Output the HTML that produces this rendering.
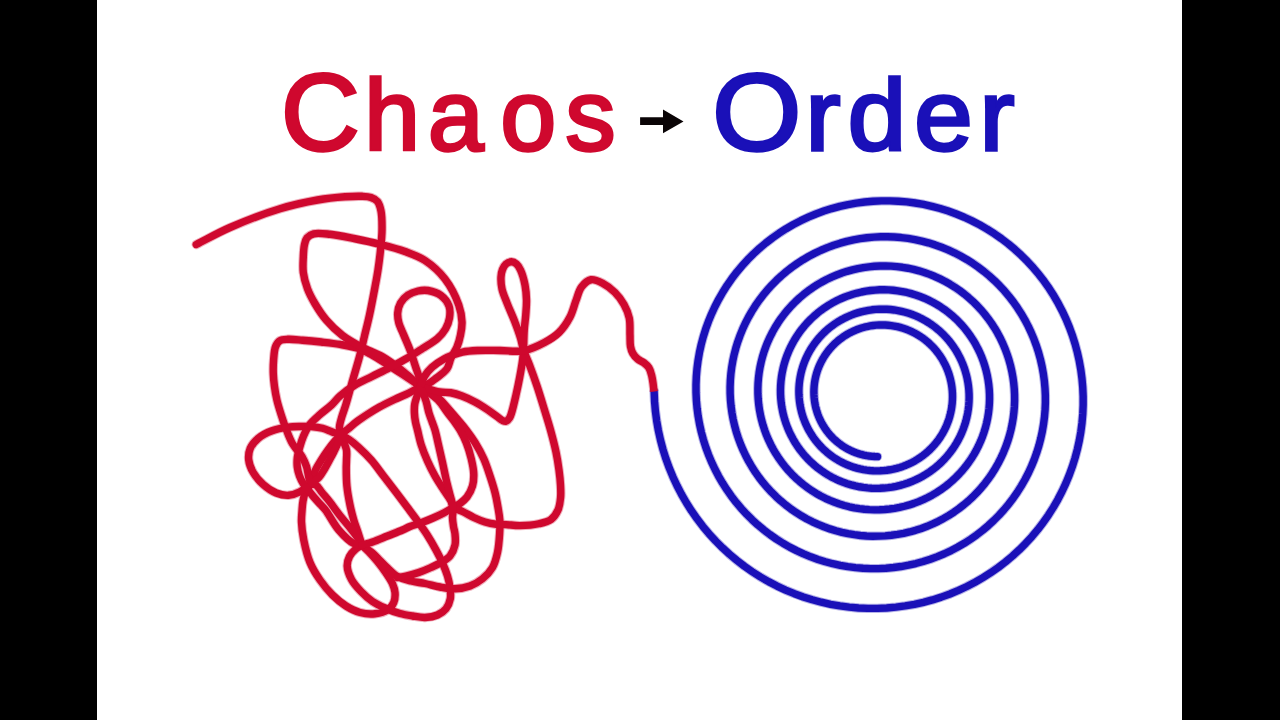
<!DOCTYPE html>
<html lang="en"><head><meta charset="utf-8"><title>Chaos → Order</title>
<style>
html,body{margin:0;padding:0;background:#000;}
body{width:1280px;height:720px;position:relative;overflow:hidden;font-family:"Liberation Sans",sans-serif;}
.stage{position:absolute;left:97px;top:0;width:1085px;height:720px;background:#fff;}
</style></head><body>
<div class="stage"></div>
<svg width="1280" height="720" viewBox="0 0 1280 720" style="position:absolute;left:0;top:0">
<g id="art">
<defs><path id="spiral-geo" d="M654.13 391.47 L654.55 401.31 L655.39 411.10 L656.67 420.83 L658.36 430.49 L660.47 440.05 L662.99 449.49 L665.92 458.80 L669.24 467.96 L672.96 476.95 L677.06 485.76 L681.53 494.37 L686.37 502.77 L691.57 510.93 L697.10 518.85 L702.97 526.51 L709.16 533.90 L715.66 541.00 L722.45 547.79 L729.52 554.28 L736.85 560.44 L744.44 566.27 L752.26 571.75 L760.30 576.88 L768.55 581.65 L776.99 586.04 L785.59 590.06 L794.35 593.69 L803.25 596.94 L812.27 599.78 L821.39 602.23 L830.60 604.28 L839.87 605.91 L849.20 607.14 L858.55 607.96 L867.92 608.38 L877.28 608.38 L886.63 607.97 L895.93 607.16 L905.17 605.94 L914.34 604.33 L923.42 602.31 L932.39 599.91 L941.23 597.12 L949.93 593.96 L958.47 590.42 L966.83 586.52 L975.01 582.26 L982.98 577.66 L990.73 572.72 L998.25 567.45 L1005.52 561.87 L1012.53 555.99 L1019.27 549.81 L1025.72 543.36 L1031.87 536.64 L1037.72 529.67 L1043.25 522.45 L1048.45 515.02 L1053.32 507.38 L1057.84 499.54 L1062.01 491.52 L1065.82 483.34 L1069.27 475.02 L1072.34 466.56 L1075.04 457.99 L1077.35 449.33 L1079.29 440.58 L1080.84 431.77 L1082.00 422.91 L1082.77 414.02 L1083.15 405.12 L1083.15 396.23 L1082.75 387.36 L1081.97 378.52 L1080.81 369.74 L1079.27 361.03 L1077.35 352.41 L1075.06 343.89 L1072.41 335.50 L1069.39 327.24 L1066.03 319.13 L1062.31 311.18 L1058.26 303.42 L1053.89 295.85 L1049.19 288.49 L1044.18 281.36 L1038.87 274.45 L1033.28 267.80 L1027.41 261.40 L1021.27 255.28 L1014.88 249.44 L1008.25 243.89 L1001.40 238.64 L994.33 233.71 L987.07 229.09 L979.62 224.80 L972.00 220.85 L964.23 217.24 L956.32 213.97 L948.28 211.06 L940.14 208.50 L931.91 206.31 L923.60 204.48 L915.23 203.01 L906.81 201.92 L898.37 201.19 L889.92 200.83 L881.47 200.85 L873.04 201.23 L864.65 201.97 L856.31 203.08 L848.03 204.56 L839.85 206.38 L831.76 208.56 L823.79 211.09 L815.94 213.96 L808.24 217.17 L800.70 220.70 L793.33 224.55 L786.14 228.72 L779.15 233.19 L772.38 237.95 L765.82 243.00 L759.51 248.32 L753.44 253.90 L747.63 259.73 L742.08 265.81 L736.82 272.11 L731.84 278.62 L727.15 285.34 L722.77 292.24 L718.71 299.32 L714.96 306.56 L711.53 313.95 L708.44 321.46 L705.68 329.10 L703.25 336.83 L701.18 344.66 L699.44 352.55 L698.06 360.51 L697.02 368.50 L696.34 376.52 L696.01 384.55 L696.03 392.58 L696.40 400.58 L697.11 408.55 L698.17 416.47 L699.58 424.33 L701.32 432.11 L703.40 439.79 L705.81 447.36 L708.54 454.81 L711.59 462.12 L714.95 469.28 L718.62 476.28 L722.58 483.11 L726.83 489.74 L731.36 496.17 L736.16 502.39 L741.22 508.39 L746.52 514.15 L752.07 519.67 L757.84 524.93 L763.83 529.92 L770.02 534.65 L776.41 539.09 L782.97 543.25 L789.70 547.11 L796.58 550.66 L803.60 553.91 L810.74 556.84 L817.99 559.46 L825.34 561.75 L832.78 563.72 L840.28 565.36 L847.83 566.67 L855.43 567.65 L863.05 568.29 L870.68 568.60 L878.30 568.58 L885.90 568.22 L893.47 567.53 L901.00 566.52 L908.46 565.18 L915.84 563.52 L923.14 561.54 L930.33 559.24 L937.40 556.64 L944.35 553.74 L951.15 550.54 L957.79 547.05 L964.27 543.28 L970.57 539.24 L976.68 534.93 L982.58 530.37 L988.27 525.56 L993.74 520.51 L998.98 515.24 L1003.97 509.75 L1008.71 504.06 L1013.20 498.17 L1017.41 492.11 L1021.35 485.87 L1025.01 479.48 L1028.39 472.94 L1031.47 466.27 L1034.25 459.48 L1036.73 452.59 L1038.90 445.60 L1040.76 438.54 L1042.32 431.41 L1043.55 424.24 L1044.47 417.02 L1045.08 409.79 L1045.37 402.54 L1045.34 395.30 L1044.99 388.07 L1044.34 380.88 L1043.37 373.74 L1042.09 366.65 L1040.50 359.64 L1038.62 352.71 L1036.43 345.88 L1033.96 339.16 L1031.19 332.57 L1028.15 326.11 L1024.83 319.80 L1021.25 313.65 L1017.40 307.67 L1013.30 301.87 L1008.96 296.27 L1004.39 290.86 L999.59 285.67 L994.58 280.71 L989.36 275.97 L983.95 271.47 L978.36 267.21 L972.59 263.21 L966.66 259.47 L960.59 256.00 L954.37 252.80 L948.04 249.88 L941.59 247.25 L935.04 244.90 L928.40 242.84 L921.69 241.07 L914.92 239.60 L908.10 238.43 L901.25 237.56 L894.37 237.00 L887.49 236.73 L880.61 236.76 L873.75 237.09 L866.92 237.72 L860.13 238.65 L853.40 239.87 L846.74 241.38 L840.16 243.18 L833.67 245.26 L827.30 247.62 L821.03 250.25 L814.90 253.14 L808.91 256.30 L803.07 259.71 L797.39 263.37 L791.89 267.26 L786.57 271.39 L781.44 275.74 L776.51 280.30 L771.80 285.07 L767.30 290.02 L763.03 295.17 L758.99 300.49 L755.20 305.97 L751.65 311.60 L748.36 317.37 L745.32 323.28 L742.56 329.30 L740.06 335.43 L737.83 341.65 L735.88 347.96 L734.21 354.33 L732.82 360.77 L731.71 367.25 L730.89 373.76 L730.36 380.29 L730.11 386.83 L730.14 393.36 L730.46 399.88 L731.07 406.37 L731.96 412.81 L733.12 419.21 L734.56 425.53 L736.27 431.78 L738.25 437.94 L740.50 444.00 L743.00 449.94 L745.76 455.77 L748.76 461.45 L752.01 467.00 L755.48 472.39 L759.19 477.61 L763.11 482.66 L767.25 487.53 L771.58 492.21 L776.11 496.68 L780.83 500.95 L785.72 505.01 L790.77 508.84 L795.98 512.44 L801.34 515.80 L806.82 518.92 L812.43 521.80 L818.16 524.43 L823.98 526.80 L829.89 528.91 L835.89 530.76 L841.94 532.34 L848.05 533.65 L854.21 534.70 L860.40 535.47 L866.60 535.98 L872.81 536.21 L879.02 536.17 L885.21 535.86 L891.37 535.28 L897.49 534.43 L903.57 533.32 L909.57 531.95 L915.51 530.32 L921.36 528.43 L927.11 526.29 L932.75 523.91 L938.28 521.29 L943.68 518.43 L948.95 515.34 L954.07 512.03 L959.03 508.51 L963.82 504.78 L968.44 500.85 L972.88 496.73 L977.13 492.42 L981.18 487.94 L985.03 483.29 L988.66 478.49 L992.08 473.53 L995.27 468.45 L998.23 463.23 L1000.96 457.90 L1003.45 452.46 L1005.70 446.93 L1007.70 441.31 L1009.45 435.62 L1010.95 429.86 L1012.19 424.05 L1013.18 418.21 L1013.91 412.33 L1014.38 406.44 L1014.60 400.53 L1014.55 394.64 L1014.25 388.76 L1013.70 382.90 L1012.89 377.09 L1011.83 371.32 L1010.52 365.62 L1008.97 359.98 L1007.17 354.43 L1005.14 348.96 L1002.87 343.60 L1000.37 338.35 L997.65 333.23 L994.72 328.23 L991.57 323.37 L988.22 318.66 L984.67 314.11 L980.93 309.72 L977.01 305.51 L972.92 301.48 L968.66 297.63 L964.24 293.98 L959.68 290.53 L954.97 287.29 L950.13 284.27 L945.18 281.45 L940.11 278.87 L934.94 276.51 L929.68 274.38 L924.34 272.48 L918.94 270.82 L913.47 269.40 L907.95 268.23 L902.40 267.29 L896.81 266.60 L891.21 266.16 L885.61 265.96 L880.01 266.00 L874.42 266.29 L868.86 266.82 L863.34 267.60 L857.86 268.61 L852.44 269.86 L847.09 271.34 L841.82 273.05 L836.63 274.99 L831.54 277.14 L826.55 279.52 L821.69 282.11 L816.94 284.90 L812.33 287.89 L807.86 291.08 L803.54 294.45 L799.37 298.01 L795.37 301.73 L791.55 305.62 L787.90 309.68 L784.43 313.87 L781.16 318.21 L778.09 322.69 L775.21 327.28 L772.55 331.99 L770.09 336.81 L767.86 341.72 L765.84 346.72 L764.04 351.79 L762.47 356.93 L761.13 362.12 L760.01 367.36 L759.13 372.64 L758.48 377.95 L758.06 383.27 L757.88 388.59 L757.92 393.91 L758.20 399.22 L758.71 404.50 L759.45 409.74 L760.42 414.94 L761.60 420.09 L763.02 425.17 L764.65 430.18 L766.49 435.11 L768.54 439.94 L770.80 444.68 L773.26 449.30 L775.92 453.80 L778.77 458.18 L781.80 462.43 L785.01 466.53 L788.38 470.48 L791.93 474.28 L795.63 477.91 L799.48 481.37 L803.47 484.66 L807.60 487.76 L811.85 490.68 L816.22 493.41 L820.69 495.93 L825.27 498.26 L829.93 500.38 L834.68 502.30 L839.50 504.00 L844.38 505.49 L849.32 506.76 L854.30 507.82 L859.31 508.65 L864.35 509.26 L869.41 509.66 L874.46 509.83 L879.52 509.78 L884.56 509.51 L889.57 509.02 L894.56 508.32 L899.50 507.40 L904.38 506.26 L909.21 504.92 L913.97 503.37 L918.65 501.61 L923.24 499.66 L927.73 497.50 L932.12 495.16 L936.40 492.64 L940.55 489.93 L944.58 487.05 L948.48 484.00 L952.23 480.78 L955.83 477.41 L959.28 473.90 L962.57 470.24 L965.68 466.44 L968.63 462.52 L971.40 458.48 L973.98 454.33 L976.38 450.08 L978.59 445.73 L980.60 441.29 L982.42 436.78 L984.03 432.20 L985.44 427.56 L986.64 422.87 L987.64 418.14 L988.43 413.38 L989.01 408.59 L989.38 403.79 L989.54 398.99 L989.49 394.19 L989.23 389.40 L988.76 384.63 L988.09 379.90 L987.21 375.21 L986.13 370.57 L984.85 365.98 L983.37 361.47 L981.70 357.02 L979.84 352.67 L977.79 348.40 L975.56 344.23 L973.16 340.17 L970.58 336.22 L967.84 332.40 L964.94 328.70 L961.89 325.14 L958.68 321.72 L955.34 318.45 L951.86 315.33 L948.25 312.37 L944.53 309.57 L940.69 306.95 L936.74 304.49 L932.70 302.22 L928.57 300.13 L924.35 298.22 L920.06 296.50 L915.71 294.97 L911.30 293.63 L906.85 292.49 L902.35 291.55 L897.83 290.80 L893.28 290.26 L888.72 289.91 L884.16 289.76 L879.60 289.81 L875.05 290.07 L870.53 290.51 L866.03 291.16 L861.57 292.00 L857.17 293.03 L852.81 294.25 L848.52 295.65 L844.30 297.24 L840.16 299.02 L836.11 300.96 L832.16 303.08 L828.30 305.37 L824.55 307.82 L820.92 310.42 L817.41 313.18 L814.03 316.09 L810.79 319.13 L807.68 322.31 L804.72 325.62 L801.91 329.05 L799.26 332.59 L796.77 336.24 L794.44 339.99 L792.28 343.83 L790.30 347.76 L788.49 351.76 L786.86 355.84 L785.41 359.97 L784.14 364.16 L783.06 368.39 L782.17 372.66 L781.47 376.96 L780.95 381.28 L780.63 385.61 L780.49 389.95 L780.54 394.28 L780.78 398.60 L781.21 402.90 L781.83 407.17 L782.63 411.40 L783.61 415.59 L784.77 419.72 L786.11 423.80 L787.63 427.80 L789.31 431.73 L791.16 435.58 L793.18 439.34 L795.36 443.00 L797.68 446.56 L800.16 450.00 L802.79 453.33 L805.55 456.54 L808.44 459.62 L811.47 462.57 L814.61 465.38 L817.87 468.05 L821.24 470.56 L824.71 472.93 L828.27 475.13 L831.92 477.18 L835.65 479.06 L839.46 480.78 L843.33 482.32 L847.26 483.70 L851.24 484.90 L855.26 485.92 L859.32 486.76 L863.40 487.43 L867.50 487.91 L871.62 488.22 L875.74 488.35 L879.85 488.29 L883.95 488.06 L888.04 487.65 L892.09 487.06 L896.11 486.30 L900.09 485.36 L904.01 484.25 L907.88 482.98 L911.69 481.54 L915.42 479.93 L919.07 478.17 L922.64 476.25 L926.12 474.18 L929.49 471.97 L932.77 469.61 L935.93 467.12 L938.98 464.49 L941.90 461.74 L944.70 458.86 L947.36 455.88 L949.89 452.78 L952.28 449.58 L954.52 446.28 L956.62 442.89 L958.56 439.42 L960.34 435.88 L961.97 432.26 L963.43 428.58 L964.74 424.85 L965.87 421.07 L966.84 417.25 L967.64 413.39 L968.27 409.51 L968.73 405.61 L969.01 401.70 L969.13 397.79 L969.08 393.88 L968.85 389.99 L968.46 386.11 L967.90 382.26 L967.17 378.44 L966.28 374.66 L965.22 370.94 L964.01 367.26 L962.63 363.65 L961.11 360.10 L959.43 356.64 L957.61 353.25 L955.64 349.95 L953.53 346.74 L951.29 343.63 L948.92 340.63 L946.42 337.74 L943.80 334.97 L941.07 332.31 L938.23 329.78 L935.29 327.38 L932.24 325.12 L929.11 322.99 L925.89 321.00 L922.59 319.16 L919.22 317.47 L915.79 315.92 L912.29 314.54 L908.75 313.30 L905.15 312.23 L901.52 311.31 L897.86 310.55 L894.17 309.96 L890.47 309.53 L886.76 309.26 L883.04 309.15 L879.33 309.20 L875.63 309.42 L871.94 309.80 L868.28 310.33 L864.66 311.03 L861.07 311.88 L857.53 312.88 L854.04 314.04 L850.61 315.35 L847.25 316.80 L843.95 318.40 L840.74 320.13 L837.60 322.00 L834.56 324.01 L831.61 326.14 L828.76 328.39 L826.01 330.77 L823.38 333.26 L820.86 335.85 L818.46 338.55 L816.18 341.35 L814.03 344.24 L812.01 347.22 L810.13 350.28 L808.38 353.42 L806.78 356.62 L805.31 359.88 L804.00 363.20 L802.83 366.58 L801.81 369.99 L800.94 373.44 L800.23 376.92 L799.67 380.42 L799.26 383.94 L799.00 387.47 L798.90 391.00 L798.96 394.52 L799.17 398.04 L799.53 401.54 L800.04 405.01 L800.70 408.45 L801.51 411.86 L802.47 415.22 L803.57 418.54 L804.82 421.80 L806.20 424.99 L807.72 428.12 L809.37 431.17 L811.15 434.15 L813.06 437.04 L815.08 439.84 L817.23 442.54 L819.49 445.15 L821.85 447.65 L824.32 450.04 L826.89 452.32 L829.55 454.48 L832.30 456.52 L835.13 458.44 L838.03 460.22 L841.01 461.88 L844.06 463.40 L847.16 464.79 L850.31 466.04 L853.52 467.14 L856.76 468.11 L860.04 468.93 L863.34 469.61 L866.67 470.14 L870.01 470.52 L873.36 470.76 L876.72 470.85 L880.07 470.80 L883.41 470.60 L886.73 470.25 L890.03 469.76 L893.30 469.13 L896.54 468.36 L899.73 467.45 L902.88 466.40 L905.97 465.21 L909.00 463.90 L911.97 462.45 L914.87 460.88 L917.70 459.19 L920.44 457.37 L923.10 455.45 L925.67 453.41 L928.14 451.26 L930.51 449.01 L932.78 446.66 L934.95 444.22 L937.00 441.70 L938.93 439.08 L940.75 436.39 L942.45 433.63 L944.02 430.80 L945.46 427.91 L946.78 424.96 L947.96 421.96 L949.01 418.92 L949.92 415.84 L950.70 412.72 L951.34 409.58 L951.84 406.42 L952.21 403.24 L952.43 400.06 L952.51 396.87 L952.46 393.69 L952.27 390.52 L951.94 387.37 L951.47 384.23 L950.86 381.12 L950.13 378.05 L949.26 375.02 L948.26 372.03 L947.13 369.09 L945.88 366.21 L944.50 363.39 L943.01 360.64 L941.40 357.96 L939.68 355.35 L937.84 352.83 L935.90 350.39 L933.86 348.04 L931.72 345.79 L929.49 343.64 L927.17 341.58 L924.77 339.64 L922.29 337.80 L919.73 336.08 L917.10 334.47 L914.41 332.98 L911.66 331.61 L908.86 330.36 L906.01 329.24 L903.12 328.25 L900.19 327.38 L897.24 326.64 L894.25 326.04 L891.25 325.56 L888.23 325.22 L885.21 325.01 L882.18 324.93 L879.16 324.99 L876.15 325.17 L873.15 325.49 L870.17 325.94 L867.22 326.51 L864.30 327.22 L861.42 328.04 L858.59 328.99 L855.80 330.07 L853.06 331.26 L850.38 332.57 L847.77 333.99 L845.22 335.52 L842.75 337.16 L840.35 338.91 L838.04 340.75 L835.81 342.69 L833.67 344.72 L831.63 346.84 L829.68 349.05 L827.83 351.33 L826.09 353.69 L824.46 356.12 L822.93 358.62 L821.52 361.18 L820.22 363.79 L819.04 366.45 L817.97 369.16 L817.03 371.91 L816.21 374.69 L815.51 377.50 L814.94 380.33 L814.49 383.19 L814.17 386.05 L813.97 388.92 L813.90 391.80 L813.95 394.67 L814.13 397.53 L814.44 400.38 L814.86 403.21 L815.41 406.01 L816.08 408.78 L816.87 411.52 L817.78 414.21 L818.80 416.86 L819.93 419.46 L821.18 422.00 L822.53 424.48 L823.99 426.90 L825.55 429.25 L827.20 431.52 L828.96 433.72 L830.80 435.83 L832.73 437.86 L834.75 439.80 L836.85 441.65 L839.02 443.40 L841.26 445.06 L843.57 446.61 L845.94 448.06 L848.37 449.40 L850.86 450.63 L853.39 451.75 L855.96 452.76 L858.57 453.65 L861.21 454.43 L863.88 455.09 L866.58 455.63 L869.29 456.05 L872.01 456.36 L874.74 456.54 L877.47 456.61"/><g id="tangle-geo">
<path d="M196.25 244.50 C207.50 238.83 217.48 232.98 230.00 227.50 C244.88 220.99 264.39 213.48 280.00 208.75 C293.26 204.74 305.91 202.02 317.50 200.00 C327.32 198.29 336.92 197.39 345.00 196.80 C351.33 196.34 357.24 196.05 362.00 196.30 C365.48 196.48 368.33 196.55 371.00 197.50 C373.45 198.37 375.87 199.51 377.50 201.50 C379.38 203.79 380.22 207.22 381.00 211.00 C382.07 216.18 382.07 223.59 382.00 230.00 C381.93 236.58 381.17 243.34 380.50 250.00 C379.83 256.67 378.96 263.62 378.00 270.00 C377.11 275.91 376.19 280.64 375.00 287.00 C373.47 295.18 371.38 306.35 369.50 315.00 C367.87 322.52 366.20 328.96 364.50 336.00 C362.78 343.13 361.18 350.27 359.25 357.50 C357.27 364.94 354.94 372.30 352.75 380.00 C350.44 388.11 347.79 398.33 345.75 405.00 C344.37 409.51 343.05 412.52 342.00 416.25 C340.98 419.85 339.67 423.67 339.50 427.00 C339.35 429.85 339.79 432.52 340.50 435.00 C341.17 437.33 342.55 439.16 343.50 441.50 C344.56 444.12 345.99 447.01 346.50 450.00 C347.04 453.15 346.55 456.85 346.50 460.00 C346.46 462.82 346.24 464.80 346.25 468.00 C346.26 472.80 346.30 479.94 346.90 486.00 C347.52 492.27 348.78 499.06 350.00 505.00 C351.10 510.32 352.40 515.41 353.75 520.00 C354.92 523.98 356.21 527.11 357.50 531.00 C358.95 535.38 360.50 540.33 362.00 545.00"/>
<path d="M340.50 435.00 C338.67 437.00 336.90 438.76 335.00 441.00 C332.76 443.66 330.28 446.84 328.00 450.00 C325.60 453.32 323.19 456.96 321.00 460.50 C318.86 463.96 316.65 467.26 315.00 471.00 C313.28 474.90 312.73 479.83 311.00 483.50 C309.48 486.72 306.84 489.02 305.50 492.00 C304.21 494.86 303.58 497.90 303.00 501.00 C302.40 504.22 302.25 507.58 302.00 511.00 C301.74 514.58 301.34 517.89 301.50 522.00 C301.71 527.27 302.49 533.71 303.75 540.00 C305.18 547.13 307.14 555.63 310.00 562.50 C312.66 568.88 316.21 574.55 320.00 580.00 C323.73 585.37 328.03 590.57 332.50 595.00 C336.73 599.18 341.26 603.04 346.00 606.00 C350.46 608.79 355.13 611.21 360.00 612.50 C364.81 613.77 370.27 614.24 375.00 613.75 C379.40 613.29 384.28 612.13 387.50 610.00 C390.29 608.16 392.50 605.39 393.75 602.50 C395.02 599.57 395.25 595.70 395.00 592.50 C394.77 589.46 393.80 586.73 392.50 583.75 C390.97 580.25 388.44 576.62 386.00 573.00 C383.33 569.04 379.99 564.66 377.00 561.00 C374.32 557.72 371.62 554.78 369.00 552.00 C366.63 549.48 364.33 547.33 362.00 545.00"/>
<path d="M420.50 386.50 C416.83 388.58 413.50 390.72 409.50 392.75 C404.94 395.07 399.48 397.14 394.50 399.50 C389.48 401.89 384.12 404.45 379.50 407.00 C375.36 409.29 371.76 411.58 368.00 414.00 C364.26 416.41 360.42 418.91 357.00 421.50 C353.79 423.93 350.87 426.65 348.00 429.00 C345.40 431.13 342.13 432.60 340.50 435.00 C339.02 437.17 339.19 439.92 338.20 442.50 C337.08 445.40 335.46 448.56 334.00 451.50 C332.56 454.39 331.05 457.13 329.50 460.00 C327.89 462.97 326.29 466.08 324.50 469.00 C322.72 471.91 321.08 475.07 318.80 477.50 C316.56 479.89 313.86 481.34 311.00 483.50 C307.55 486.10 303.47 490.01 299.50 492.00 C295.94 493.78 292.29 495.10 288.50 495.30 C284.54 495.51 280.20 494.61 276.20 493.00 C271.74 491.21 267.03 487.91 263.20 484.50 C259.36 481.08 255.64 476.79 253.20 472.50 C250.93 468.50 249.13 463.92 248.70 459.75 C248.30 455.93 248.74 451.98 250.20 448.50 C251.77 444.79 254.81 441.16 258.20 438.30 C261.93 435.15 267.09 432.64 272.00 430.80 C277.01 428.92 282.97 427.90 288.00 427.20 C292.40 426.59 296.49 426.59 300.50 426.50 C304.22 426.41 307.64 426.32 311.25 426.60 C314.97 426.89 318.93 427.31 322.50 428.25 C325.92 429.15 329.13 430.83 332.25 432.00 C335.11 433.07 337.77 433.79 340.50 435.00 C343.36 436.27 346.16 437.61 349.00 439.50 C352.25 441.66 355.38 444.44 358.75 447.50 C362.74 451.12 367.23 455.42 371.25 460.00 C375.58 464.93 379.58 470.83 383.75 476.25 C387.92 481.67 392.21 487.18 396.25 492.50 C400.11 497.59 403.87 502.63 407.50 507.50 C410.94 512.11 414.22 516.43 417.50 521.00 C420.80 525.60 424.18 530.19 427.25 535.00 C430.35 539.85 433.37 545.14 436.00 550.00 C438.41 554.45 440.57 558.62 442.50 563.00 C444.39 567.29 446.23 571.75 447.50 576.00 C448.67 579.91 449.54 583.67 450.00 587.50 C450.45 591.25 450.99 595.18 450.30 598.75 C449.63 602.26 448.16 606.03 446.00 608.75 C443.87 611.43 440.79 613.55 437.50 615.00 C433.88 616.60 429.18 617.34 425.00 617.50 C420.85 617.66 416.65 616.66 412.50 616.00 C408.32 615.33 404.31 614.71 400.00 613.50 C395.18 612.14 389.71 610.08 385.00 608.00 C380.58 606.05 376.43 604.18 372.50 601.50 C368.41 598.72 364.50 595.16 361.00 591.50 C357.50 587.83 353.81 583.85 351.50 579.50 C349.28 575.32 347.35 570.12 347.20 566.00 C347.08 562.57 348.07 559.33 349.50 556.50 C350.93 553.66 353.55 550.98 355.80 549.00 C357.75 547.28 359.93 546.33 362.00 545.00"/>
<path d="M420.50 386.50 C418.08 384.83 415.94 383.32 413.25 381.50 C409.92 379.24 406.03 376.65 402.00 374.00 C397.37 370.95 392.02 367.43 387.00 364.25 C382.02 361.10 376.91 357.71 372.00 355.00 C367.51 352.52 363.66 350.21 358.75 348.50 C353.15 346.55 346.27 345.49 340.00 344.40 C333.77 343.32 327.51 342.70 321.25 342.00 C315.01 341.30 308.35 340.66 302.50 340.20 C297.36 339.79 292.11 339.10 288.00 339.30 C284.93 339.45 282.09 339.33 280.00 340.60 C278.01 341.81 276.65 343.97 275.60 346.50 C274.17 349.95 273.98 355.45 273.60 360.00 C273.21 364.61 273.14 369.52 273.30 374.00 C273.45 378.16 273.84 381.86 274.40 386.00 C275.01 390.50 275.80 395.28 276.90 400.00 C278.05 404.94 279.70 410.13 281.25 415.00 C282.74 419.70 284.19 424.10 286.00 428.75 C287.92 433.68 289.81 439.10 292.50 443.75 C295.16 448.34 299.58 452.38 302.00 456.50 C304.01 459.92 305.14 462.66 306.50 466.50 C308.22 471.36 308.49 480.91 311.00 483.50 C312.37 484.91 314.41 483.93 316.00 485.00 C318.15 486.45 319.87 489.90 322.00 492.50 C324.35 495.37 326.87 498.16 329.50 501.50 C332.65 505.51 336.07 510.61 339.50 515.00 C342.90 519.36 346.68 523.53 350.00 527.75 C353.16 531.77 356.87 536.51 359.00 539.75 C360.35 541.81 360.45 543.23 362.00 545.00 C364.29 547.62 369.37 550.27 372.50 553.00 C375.30 555.45 377.50 558.00 380.00 560.50 C382.50 563.00 384.76 565.48 387.50 568.00 C390.54 570.81 393.68 574.35 397.50 576.50 C401.48 578.74 406.42 579.83 411.00 581.00 C415.58 582.17 420.27 582.53 425.00 583.50 C429.93 584.51 434.98 586.12 440.00 587.00 C444.98 587.87 450.01 588.91 455.00 588.75 C460.01 588.59 465.36 587.71 470.00 586.00 C474.51 584.34 478.78 581.79 482.50 578.75 C486.30 575.65 490.01 571.81 492.50 567.50 C495.05 563.09 496.32 557.83 497.50 552.50 C498.78 546.72 499.23 539.75 499.60 534.00 C499.92 529.02 500.09 524.52 499.80 520.00 C499.52 515.70 498.75 511.85 498.00 507.50 C497.18 502.72 496.28 497.59 495.00 492.50 C493.64 487.10 491.84 481.54 490.00 476.00 C488.10 470.29 486.25 464.33 483.75 458.75 C481.25 453.16 478.07 447.48 475.00 442.50 C472.21 437.97 469.20 433.88 466.25 430.00 C463.53 426.42 460.83 423.36 458.00 420.00 C455.08 416.53 452.11 413.02 449.00 409.50 C445.78 405.85 443.11 401.99 439.00 398.50 C433.99 394.24 426.67 390.50 420.50 386.50"/>
<path d="M420.50 386.50 C414.67 381.43 409.19 376.16 403.00 371.30 C396.56 366.24 389.61 360.92 382.50 356.80 C375.59 352.79 367.80 350.44 361.00 346.80 C354.50 343.32 348.25 339.92 342.50 335.50 C336.65 331.01 330.93 325.48 326.25 320.00 C321.86 314.86 318.21 309.17 315.00 303.75 C312.04 298.75 309.45 293.96 307.50 288.75 C305.55 283.54 303.99 277.90 303.30 272.50 C302.64 267.31 303.08 261.83 303.30 257.00 C303.49 252.74 303.63 248.45 304.40 245.00 C305.01 242.25 305.46 239.66 307.00 237.80 C308.56 235.92 310.88 234.54 313.75 233.80 C317.88 232.74 324.03 233.68 330.00 234.30 C337.46 235.08 346.68 237.09 355.00 238.75 C363.35 240.42 371.70 242.19 380.00 244.30 C388.37 246.43 397.23 248.65 405.00 251.50 C412.14 254.12 418.66 256.30 425.00 260.50 C432.07 265.18 439.44 271.77 445.00 279.00 C450.78 286.52 455.96 297.06 458.75 305.00 C460.89 311.09 461.80 316.70 462.00 322.00 C462.17 326.61 461.35 330.79 460.50 335.00 C459.67 339.12 458.58 343.17 457.00 347.00 C455.42 350.84 452.69 354.29 451.00 358.00 C449.38 361.55 449.25 365.51 447.00 368.75 C444.44 372.44 439.19 375.82 435.75 378.50 C433.06 380.60 430.87 382.40 428.25 383.75 C425.77 385.03 423.08 385.58 420.50 386.50"/>
<path d="M420.50 386.50 C420.33 384.33 420.49 382.43 420.00 380.00 C419.34 376.73 417.66 372.98 416.25 368.75 C414.43 363.29 412.20 355.86 410.00 350.00 C408.01 344.68 405.70 339.78 403.75 335.00 C401.97 330.65 399.74 326.45 398.75 322.50 C397.92 319.18 397.44 316.18 397.70 313.00 C397.97 309.68 398.83 305.97 400.50 303.00 C402.22 299.95 405.07 297.00 408.00 295.00 C410.91 293.01 414.60 291.74 418.00 291.00 C421.27 290.28 424.51 289.94 428.00 290.50 C432.12 291.16 437.47 292.86 441.00 295.50 C444.43 298.07 447.61 302.15 449.00 306.00 C450.33 309.68 450.10 314.14 449.50 318.00 C448.91 321.81 447.45 325.63 445.50 329.00 C443.49 332.48 440.84 335.51 437.50 338.50 C433.48 342.10 427.52 345.24 422.50 348.50 C417.52 351.74 412.75 354.92 407.50 358.00 C401.94 361.26 395.90 364.42 390.00 367.50 C384.07 370.59 377.91 373.54 372.00 376.50 C366.25 379.37 360.36 381.73 355.00 385.00 C349.70 388.24 344.16 392.33 340.00 396.00 C336.61 399.00 334.65 402.05 331.50 405.00 C328.05 408.23 323.66 411.21 320.00 414.50 C316.42 417.72 312.53 420.82 309.75 424.50 C307.09 428.02 305.22 432.05 303.50 436.00 C301.81 439.89 300.56 444.16 299.50 448.00 C298.55 451.46 297.65 454.74 297.30 458.00 C296.97 461.06 296.94 464.02 297.30 467.00 C297.66 470.02 298.45 473.14 299.50 476.00 C300.53 478.81 301.96 481.54 303.50 484.00 C304.98 486.36 306.80 488.34 308.50 490.50 C310.22 492.68 311.86 494.78 313.75 497.00 C315.83 499.44 318.42 502.20 320.50 504.50 C322.29 506.48 323.55 507.50 325.50 510.00 C329.00 514.50 333.79 524.25 338.75 530.00 C343.30 535.27 349.20 541.26 353.75 543.50 C356.69 544.94 359.25 544.50 362.00 545.00"/>
<path d="M420.50 386.50 C426.33 391.00 433.37 395.31 438.00 400.00 C441.82 403.87 444.17 408.30 447.00 412.00 C449.46 415.23 451.81 417.96 454.00 421.00 C456.13 423.96 458.08 426.69 460.00 430.00 C462.18 433.76 464.44 437.98 466.25 442.50 C468.25 447.49 469.99 453.40 471.25 458.75 C472.44 463.81 473.60 468.99 473.75 473.75 C473.89 478.03 473.63 482.12 472.50 486.00 C471.37 489.87 469.27 493.98 467.00 497.00 C465.00 499.67 462.42 501.70 460.00 503.50 C457.80 505.14 455.65 506.06 453.20 507.50 C450.31 509.19 447.08 511.26 443.75 513.00 C440.20 514.85 436.27 516.62 432.50 518.25 C428.77 519.86 425.02 521.37 421.25 522.75 C417.52 524.12 413.34 525.17 410.00 526.50 C407.21 527.61 405.45 528.72 402.50 530.00 C398.38 531.78 392.50 534.00 387.50 536.00 C382.50 538.00 377.09 540.43 372.50 542.00 C368.72 543.29 365.50 544.00 362.00 545.00"/>
<path d="M420.50 386.50 C426.83 388.33 433.95 391.02 439.50 392.00 C443.69 392.74 447.03 392.10 450.75 392.75 C454.54 393.42 458.17 394.57 462.00 396.00 C466.24 397.58 470.73 399.71 475.00 402.00 C479.40 404.36 484.11 407.40 488.00 410.00 C491.32 412.22 494.37 414.59 497.00 416.50 C499.06 417.99 500.80 419.73 502.50 420.50 C503.74 421.06 504.91 421.60 506.00 421.30 C507.27 420.96 508.59 419.33 509.50 418.00 C510.46 416.59 510.78 415.21 511.50 413.00 C512.83 408.89 514.62 401.01 516.00 395.00 C517.37 389.01 518.62 383.01 519.75 377.00 C520.87 371.01 522.13 363.98 522.75 359.00 C523.19 355.50 523.28 353.59 523.50 350.00 C523.82 344.65 523.83 336.18 524.25 330.00 C524.62 324.63 525.37 320.00 525.75 315.00 C526.12 310.00 526.62 305.00 526.50 300.00 C526.38 295.00 525.98 289.95 525.00 285.00 C524.00 279.95 522.28 273.78 520.50 270.00 C519.29 267.44 518.14 265.39 516.50 264.00 C515.07 262.79 513.21 261.78 511.50 261.75 C509.72 261.72 507.48 262.76 506.00 264.00 C504.45 265.30 503.33 267.44 502.50 269.50 C501.60 271.73 501.16 274.19 501.00 277.00 C500.80 280.52 501.11 284.91 502.00 289.00 C502.98 293.55 505.09 298.07 507.00 303.00 C509.18 308.65 512.21 315.05 514.50 321.00 C516.70 326.72 518.93 332.79 520.50 338.00 C521.80 342.31 522.15 345.82 523.50 350.00 C525.04 354.77 527.44 359.56 529.50 365.00 C531.92 371.39 534.57 378.74 537.00 386.00 C539.58 393.71 542.16 402.36 544.50 410.00 C546.63 416.96 548.62 423.15 550.50 430.00 C552.46 437.14 554.55 445.01 556.00 452.00 C557.30 458.27 558.24 464.26 559.00 470.00 C559.69 475.22 560.24 480.22 560.50 485.00 C560.73 489.35 561.01 493.36 560.60 497.50 C560.19 501.69 559.66 506.28 558.00 510.00 C556.40 513.58 554.10 517.22 551.00 519.50 C547.75 521.89 543.33 522.74 538.75 523.75 C533.23 524.96 525.80 525.52 520.00 525.60 C515.00 525.67 510.25 524.83 506.00 524.60 C502.46 524.41 499.60 524.64 496.25 524.25 C492.62 523.82 488.70 523.10 485.00 522.00 C481.20 520.87 477.45 519.22 473.75 517.50 C469.95 515.73 466.11 513.23 462.50 511.50 C459.29 509.96 455.09 509.55 453.20 507.50 C451.65 505.82 452.16 503.37 451.00 501.00 C449.40 497.72 446.26 493.90 443.75 490.00 C440.94 485.63 437.70 480.81 435.00 476.00 C432.28 471.15 429.78 466.13 427.50 461.00 C425.19 455.80 422.94 450.30 421.25 445.00 C419.65 439.97 418.56 434.22 417.50 430.00 C416.73 426.92 416.01 424.76 415.50 422.00 C414.96 419.10 414.52 416.01 414.40 413.00 C414.28 410.00 414.13 407.44 414.75 404.00 C415.64 399.07 418.58 392.33 420.50 386.50"/>
<path d="M420.50 386.50 C422.33 391.33 424.54 396.35 426.00 401.00 C427.30 405.15 427.91 409.37 429.00 413.00 C429.93 416.10 431.00 418.67 432.00 421.50 C433.00 424.33 434.03 426.69 435.00 430.00 C436.31 434.47 437.51 440.62 438.75 446.00 C440.01 451.46 441.27 456.92 442.50 462.50 C443.77 468.24 444.95 474.40 446.25 480.00 C447.46 485.20 448.79 490.23 450.00 495.00 C451.10 499.36 452.84 503.54 453.20 507.50 C453.52 510.99 452.43 514.26 452.50 517.50 C452.56 520.58 453.06 523.65 453.50 526.50 C453.91 529.12 454.73 531.25 455.00 534.00 C455.33 537.30 455.78 541.42 455.00 545.00 C454.19 548.76 452.41 553.05 450.00 556.00 C447.69 558.83 444.16 560.59 441.00 562.50 C437.83 564.42 434.53 565.90 431.00 567.50 C427.15 569.24 422.92 571.08 418.75 572.50 C414.58 573.92 409.84 575.14 406.00 576.00 C402.90 576.70 400.33 577.00 397.50 577.50"/>
<path d="M420.50 386.50 C421.83 383.08 422.63 379.42 424.50 376.25 C426.43 372.98 428.99 370.00 432.00 367.25 C435.36 364.19 440.19 361.13 444.00 359.00 C447.13 357.25 449.93 356.16 453.00 355.00 C456.09 353.83 458.93 352.73 462.50 352.00 C466.89 351.10 471.99 350.77 477.50 350.50 C484.23 350.16 492.42 350.45 500.00 350.50 C507.75 350.55 516.02 352.18 523.50 350.80 C530.84 349.45 538.31 345.80 544.50 342.50 C549.97 339.58 554.81 336.64 559.00 332.50 C563.36 328.20 567.14 322.45 570.00 317.00 C572.75 311.76 573.99 305.71 576.00 300.50 C577.83 295.76 578.79 290.54 581.50 287.00 C583.95 283.80 587.47 280.37 591.00 279.75 C594.62 279.11 599.16 281.53 603.00 283.50 C607.19 285.65 611.50 289.00 615.00 292.50 C618.50 296.00 621.61 300.21 624.00 304.50 C626.34 308.72 628.23 313.15 629.25 318.00 C630.36 323.26 629.78 329.89 630.00 335.00 C630.18 339.21 629.88 343.20 630.50 346.50 C630.99 349.10 631.62 351.22 632.80 353.30 C634.02 355.46 635.90 357.60 637.80 359.20 C639.62 360.73 642.05 361.37 643.90 362.80 C645.75 364.23 647.62 365.78 648.90 367.80 C650.29 369.99 650.99 372.89 651.70 375.60 C652.44 378.41 652.81 381.62 653.20 384.40 C653.55 386.89 653.73 389.13 654.00 391.50" stroke-linecap="butt"/>
</g></defs>
<g fill="none" stroke-linecap="round" stroke-linejoin="round">
<use href="#spiral-geo" stroke="#1a10b8" stroke-width="9.40" opacity="0.32"/>
<use href="#spiral-geo" stroke="#1a10b8" stroke-width="7.40"/>
<use href="#tangle-geo" stroke="#cf082e" stroke-width="9.40" opacity="0.32"/>
<use href="#tangle-geo" stroke="#cf082e" stroke-width="7.40"/>
</g>
<path d="M640.1 117.3H663V109.5L683.5 121.4L663 133.3V125.1H640.1Z" fill="#0a0406"/>
<g font-family="Liberation Sans, sans-serif" font-size="100.0" stroke-width="3.30" stroke-linejoin="miter" paint-order="stroke fill">
<text id="chaos" aria-label="Chaos" transform="scale(1.000,1)" x="281.00 364.25 428.00 500.50 565.50" y="150.3" fill="#cf082e" stroke="#cf082e"><tspan font-size="109.0">C</tspan>haos</text>
<text id="order" aria-label="Order" transform="scale(1.050,1)" x="678.33 767.14 807.38 870.71 932.86" y="150.3" fill="#1a10b8" stroke="#1a10b8"><tspan font-size="109.0">O</tspan>rder</text>
</g>
</g>
</svg>
</body></html>
